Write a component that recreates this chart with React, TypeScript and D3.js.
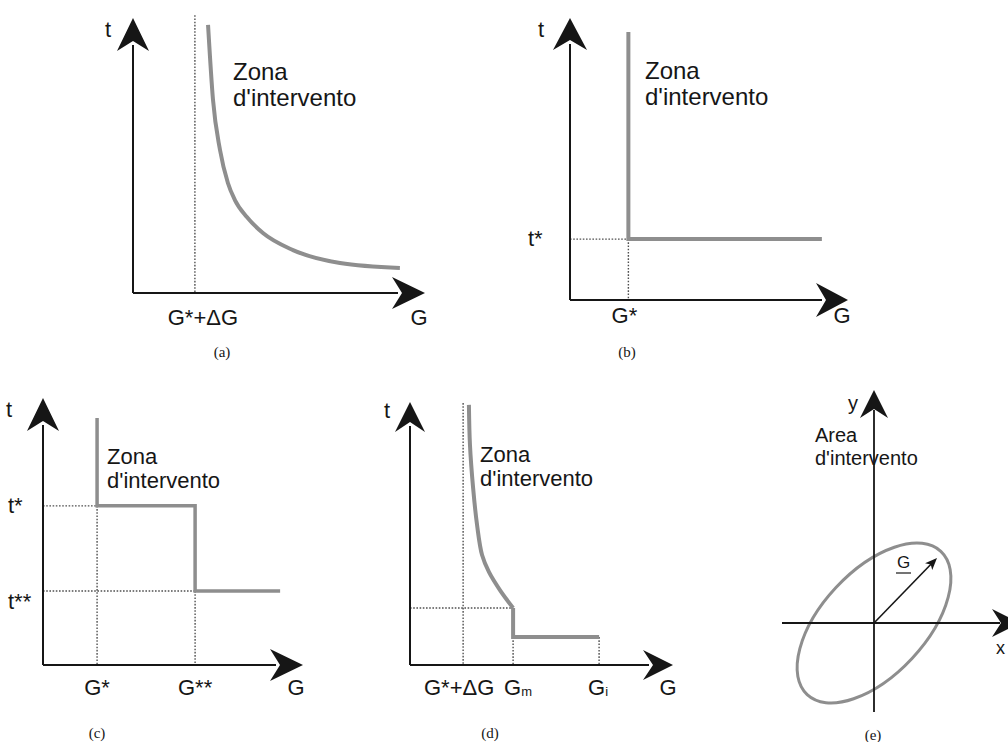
import React from 'react';
import * as d3 from 'd3';

// (a) intervention threshold, hyperbolic curve (G, t in axis units 0..100)
const curveAG = [25.7, 27.4, 29.8, 32.5, 34.9, 39.0, 44.5, 54.8, 70.9, 91.4];
const curveAT = [97.5, 70.2, 52.0, 40.0, 33.8, 27.6, 21.8, 15.6, 10.9, 9.1];
const limitA = 21.2; // G*+dG

// (b) single threshold
const gStarB = 21;
const tStarB = 21.6;
const stepB = [
  { g: 21, t: 95 },
  { g: 21, t: 21.6 },
  { g: 90.6, t: 21.6 },
];

// (c) two thresholds
const gStarC = [20.8, 58.5];
const tStarC = [59.6, 27.7];
const stepC = [
  { g: 20.8, t: 92.5 },
  { g: 20.8, t: 59.6 },
  { g: 58.5, t: 59.6 },
  { g: 58.5, t: 27.7 },
  { g: 91.2, t: 27.7 },
];

// (d) curve + step
const limitD = 20.2;
const curveDG = [22.4, 22.8, 24.0, 25.5, 27.4, 30.0, 34.2, 39.2];
const curveDT = [98.9, 83.7, 67.3, 53.2, 41.8, 35.4, 28.5, 21.7];
const gmD = 39.2;
const giD = 71.9;
const tiD = 10.6;

// (e) elliptic area
const ellipseE = { a: 98, b: 52, angle: 47 };
const vectorE = { x: 63, y: 65 };

const SANS = "'Liberation Sans', Arial, Helvetica, sans-serif";
const SERIF = "'Liberation Serif', 'Times New Roman', serif";
const INK = '#161616';
const GREY = '#8e8e8e';
const DOT = '#505050';

const arrowHead = (tx: number, ty: number, dx: number, dy: number, len: number, half: number, notch: number) => {
  const px = -dy, py = dx;
  const bx = tx - dx * len, by = ty - dy * len;
  const nx = tx - dx * (len - notch), ny = ty - dy * (len - notch);
  return `M${tx},${ty}L${bx + px * half},${by + py * half}L${nx},${ny}L${bx - px * half},${by - py * half}Z`;
};

type Sc = d3.ScaleLinear<number, number>;

const Axes = ({ x, y, x0 = 0, y0 = 0, xMax, yMax, len = 32, half = 16 }:
  { x: Sc; y: Sc; x0?: number; y0?: number; xMax: number; yMax: number; len?: number; half?: number }) => (
  <g>
    <line x1={x(x0)} y1={y(0)} x2={x(xMax) - len + 6} y2={y(0)} stroke={INK} strokeWidth={2} />
    <line x1={x(0)} y1={y(y0)} x2={x(0)} y2={y(yMax) + len - 6} stroke={INK} strokeWidth={2} />
    <path d={arrowHead(x(xMax), y(0), 1, 0, len, half, 10)} fill={INK} />
    <path d={arrowHead(x(0), y(yMax), 0, -1, len, half, 10)} fill={INK} />
  </g>
);

const Dotted = ({ x1, y1, x2, y2 }: { x1: number; y1: number; x2: number; y2: number }) => (
  <line x1={x1} y1={y1} x2={x2} y2={y2} stroke={DOT} strokeWidth={1.4} strokeDasharray="1.6 1.6" />
);

const Label = ({ x, y, children, size = 22, anchor = 'start' }: any) => (
  <text x={x} y={y} fontFamily={SANS} fontSize={size} fill={INK} textAnchor={anchor}>{children}</text>
);

const Caption = ({ x, y, children }: any) => (
  <text x={x} y={y} fontFamily={SERIF} fontSize={15} fill={INK} textAnchor="middle">{children}</text>
);

export default function App() {
  // scales per panel
  const xA = d3.scaleLinear().domain([0, 100]).range([133, 425]);
  const yA = d3.scaleLinear().domain([0, 100]).range([293, 18]);
  const xB = d3.scaleLinear().domain([0, 100]).range([570, 848]);
  const yB = d3.scaleLinear().domain([0, 100]).range([300, 18]);
  const xC = d3.scaleLinear().domain([0, 100]).range([43, 303]);
  const yC = d3.scaleLinear().domain([0, 100]).range([665, 398]);
  const xD = d3.scaleLinear().domain([0, 100]).range([410, 673]);
  const yD = d3.scaleLinear().domain([0, 100]).range([665, 402]);
  const xE = d3.scaleLinear().domain([-100, 100]).range([774, 974]);
  const yE = d3.scaleLinear().domain([-100, 100]).range([723, 523]);

  const curveA = d3.line<number>().x((_, i) => xA(curveAG[i])).y(d => yA(d)).curve(d3.curveMonotoneX)(curveAT);
  const lineB = d3.line<{ g: number; t: number }>().x(d => xB(d.g)).y(d => yB(d.t))(stepB);
  const lineC = d3.line<{ g: number; t: number }>().x(d => xC(d.g)).y(d => yC(d.t))(stepC);
  const curveD = d3.line<number>().x((_, i) => xD(curveDG[i])).y(d => yD(d)).curve(d3.curveCatmullRom.alpha(0.5))(curveDT);
  const stepD = d3.line<[number, number]>().x(d => xD(d[0])).y(d => yD(d[1]))([
    [gmD, curveDT[curveDT.length - 1]], [gmD, tiD], [giD, tiD],
  ]);

  const cxE = xE(0), cyE = yE(0);
  const vx = xE(vectorE.x), vy = yE(vectorE.y);
  const vLen = Math.hypot(vx - cxE, vy - cyE);
  const ux = (vx - cxE) / vLen, uy = (vy - cyE) / vLen;

  return (
    <svg width={1008} height={742} style={{ position: 'absolute', left: 0, top: 0, background: '#fff' }}>
      <rect width={1008} height={742} fill="#fff" />

      {/* (a) */}
      <Dotted x1={xA(limitA)} y1={yA(101)} x2={xA(limitA)} y2={yA(0)} />
      <path d={curveA || ''} fill="none" stroke={GREY} strokeWidth={4} />
      <Axes x={xA} y={yA} xMax={100} yMax={100} len={33} half={16} />
      <Label x={xA(0) - 28} y={37} size={22}>t</Label>
      <Label x={233} y={80} size={24}>Zona</Label>
      <Label x={233} y={106} size={24}>d'intervento</Label>
      <Label x={xA(limitA) + 8} y={325} anchor="middle">G*+ΔG</Label>
      <Label x={xA(100) - 6} y={325} anchor="middle">G</Label>
      <Caption x={222} y={357}>(a)</Caption>

      {/* (b) */}
      <Dotted x1={xB(gStarB)} y1={yB(tStarB)} x2={xB(gStarB)} y2={yB(0)} />
      <Dotted x1={xB(0)} y1={yB(tStarB)} x2={xB(gStarB)} y2={yB(tStarB)} />
      <path d={lineB || ''} fill="none" stroke={GREY} strokeWidth={4} />
      <Axes x={xB} y={yB} xMax={100} yMax={100} len={32} half={17} />
      <Label x={xB(0) - 32} y={37}>t</Label>
      <Label x={xB(0) - 42} y={yB(tStarB) + 7}>t*</Label>
      <Label x={645} y={79} size={24}>Zona</Label>
      <Label x={645} y={105} size={24}>d'intervento</Label>
      <Label x={xB(gStarB) - 4} y={323} anchor="middle">G*</Label>
      <Label x={xB(100) - 6} y={323} anchor="middle">G</Label>
      <Caption x={627} y={357}>(b)</Caption>

      {/* (c) */}
      <Dotted x1={xC(gStarC[0])} y1={yC(tStarC[0])} x2={xC(gStarC[0])} y2={yC(0)} />
      <Dotted x1={xC(gStarC[1])} y1={yC(tStarC[1])} x2={xC(gStarC[1])} y2={yC(0)} />
      <Dotted x1={xC(0)} y1={yC(tStarC[0])} x2={xC(gStarC[0])} y2={yC(tStarC[0])} />
      <Dotted x1={xC(0)} y1={yC(tStarC[1])} x2={xC(gStarC[1])} y2={yC(tStarC[1])} />
      <path d={lineC || ''} fill="none" stroke={GREY} strokeWidth={3.5} />
      <Axes x={xC} y={yC} xMax={100} yMax={100} len={33} half={16} />
      <Label x={xC(0) - 37} y={417}>t</Label>
      <Label x={xC(0) - 35} y={yC(tStarC[0]) + 7}>t*</Label>
      <Label x={xC(0) - 35} y={yC(tStarC[1]) + 18}>t**</Label>
      <Label x={107} y={464}>Zona</Label>
      <Label x={107} y={488}>d'intervento</Label>
      <Label x={xC(gStarC[0])} y={695} anchor="middle">G*</Label>
      <Label x={xC(gStarC[1])} y={695} anchor="middle">G**</Label>
      <Label x={xC(100) - 7} y={695} anchor="middle">G</Label>
      <Caption x={97} y={738}>(c)</Caption>

      {/* (d) */}
      <Dotted x1={xD(limitD)} y1={yD(99.6)} x2={xD(limitD)} y2={yD(0)} />
      <Dotted x1={xD(0)} y1={yD(curveDT[curveDT.length - 1])} x2={xD(gmD)} y2={yD(curveDT[curveDT.length - 1])} />
      <Dotted x1={xD(gmD)} y1={yD(tiD)} x2={xD(gmD)} y2={yD(0)} />
      <Dotted x1={xD(giD)} y1={yD(tiD)} x2={xD(giD)} y2={yD(0)} />
      <path d={curveD || ''} fill="none" stroke={GREY} strokeWidth={4} strokeLinejoin="round" />
      <path d={stepD || ''} fill="none" stroke={GREY} strokeWidth={4} />
      <Axes x={xD} y={yD} xMax={100} yMax={100} len={30} half={15} />
      <Label x={xD(0) - 26} y={418}>t</Label>
      <Label x={480} y={462}>Zona</Label>
      <Label x={480} y={486}>d'intervento</Label>
      <Label x={xD(limitD) - 4} y={695} anchor="middle">G*+ΔG</Label>
      <text x={xD(gmD) - 9} y={695} fontFamily={SANS} fontSize={22} fill={INK}>G<tspan fontSize={13} dy={1}>m</tspan></text>
      <text x={xD(giD) - 11} y={695} fontFamily={SANS} fontSize={22} fill={INK}>G<tspan fontSize={13} dy={1}>i</tspan></text>
      <Label x={xD(100) - 5} y={695} anchor="middle">G</Label>
      <Caption x={490} y={738}>(d)</Caption>

      {/* (e) */}
      <ellipse cx={cxE} cy={cyE} rx={xE(ellipseE.a) - xE(0)} ry={xE(ellipseE.b) - xE(0)}
        transform={`rotate(${-ellipseE.angle},${cxE},${cyE})`} fill="none" stroke={GREY} strokeWidth={3} />
      <line x1={xE(-92)} y1={cyE} x2={xE(146) - 20} y2={cyE} stroke={INK} strokeWidth={1.8} />
      <path d={arrowHead(xE(146), cyE, 1, 0, 28, 14, 9)} fill={INK} />
      <line x1={cxE} y1={yE(-89)} x2={cxE} y2={yE(233) + 20} stroke={INK} strokeWidth={1.8} />
      <path d={arrowHead(cxE, yE(233), 0, -1, 28, 14, 9)} fill={INK} />
      <line x1={cxE} y1={cyE} x2={vx - ux * 8} y2={vy - uy * 8} stroke={INK} strokeWidth={1.6} />
      <path d={arrowHead(vx, vy, ux, uy, 12, 5, 3)} fill={INK} />
      <Label x={848} y={410} size={20}>y</Label>
      <Label x={996} y={654} size={18}>x</Label>
      <Label x={815} y={442} size={20}>Area</Label>
      <Label x={815} y={465} size={20}>d'intervento</Label>
      <Label x={897} y={568} size={17}>G</Label>
      <line x1={896} y1={573} x2={911} y2={573} stroke={INK} strokeWidth={1.2} />
      <Caption x={873} y={740}>(e)</Caption>
    </svg>
  );
}
